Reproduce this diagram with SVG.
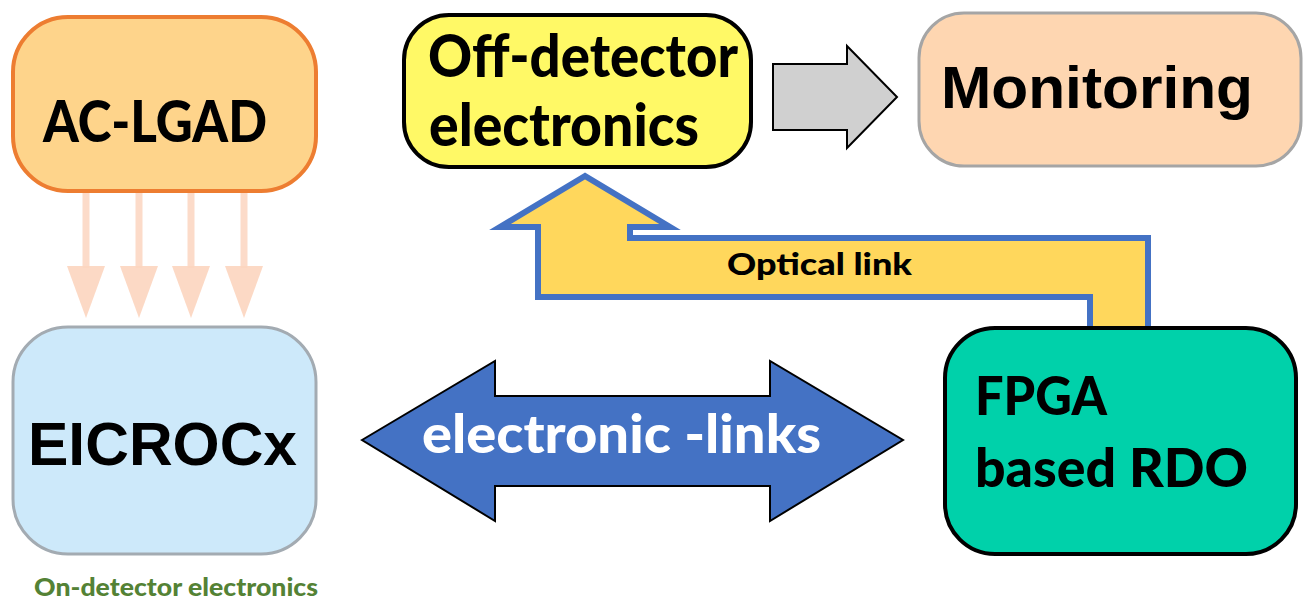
<svg xmlns="http://www.w3.org/2000/svg" width="1303" height="600" viewBox="0 0 1303 600">
<style>
.cal{font-family:Lato,"Open Sans","Liberation Sans",sans-serif;font-weight:900}
.ari{font-family:"Liberation Sans",Arial,sans-serif;font-weight:bold}
.blk{fill:#000}
</style>
<defs>
<g id="dn">
<rect x="-3.5" y="0" width="7" height="76" fill="#FCD5BF" opacity="0.85"/>
<polygon points="-19,74 19,74 0,126" fill="#FCD5BF" opacity="0.9"/>
</g>
</defs>
<rect width="1303" height="600" fill="#fff"/>
<g id="connectors">
<g id="sensor-arrows">
<use href="#dn" x="86" y="192"/>
<use href="#dn" x="139" y="192"/>
<use href="#dn" x="191" y="192"/>
<use href="#dn" x="244" y="192"/>
</g>
<g id="to-monitoring">
<polygon points="773,64 847,64 847,46 897,97 847,148 847,130 773,130" fill="#D0D0D0" stroke="#000" stroke-width="2"/>
</g>
<g id="optical-link">
<path d="M585,176 L500,227 L538,227 L538,297 L1090,297 L1090,330 L1148,330 L1148,238 L630,238 L630,227 L670,227 Z" fill="#FFD75C" stroke="#4472C4" stroke-width="6" stroke-linejoin="miter"/>
<text x="727" y="275" class="cal blk" font-size="31" textLength="185" lengthAdjust="spacingAndGlyphs">Optical link</text>
</g>
<g id="electronic-links">
<polygon points="362,440 495,361 495,396 770,396 770,361 903,440 770,521 770,486 495,486 495,521" fill="#4472C4" stroke="#000" stroke-width="2"/>
<text x="422" y="453" class="cal" fill="#fff" font-size="53" textLength="399" lengthAdjust="spacingAndGlyphs">electronic -links</text>
</g>
</g>
<g id="ac-lgad">
<rect x="13" y="17" width="303" height="174" rx="55" fill="#FED48B" stroke="#ED7D31" stroke-width="4"/>
<text x="43" y="142" class="cal blk" font-size="57" textLength="224" lengthAdjust="spacingAndGlyphs">AC-LGAD</text>
</g>
<g id="eicrocx">
<rect x="13" y="327" width="303" height="227" rx="55" fill="#CDE9FA" stroke="#A3ABB2" stroke-width="3"/>
<text x="28" y="465" class="ari blk" font-size="62" textLength="269" lengthAdjust="spacingAndGlyphs">EICROCx</text>
</g>
<g id="off-detector">
<rect x="404" y="15" width="347" height="152" rx="45" fill="#FFF966" stroke="#000" stroke-width="4"/>
<text x="428" y="77" class="cal blk" font-size="59" textLength="310" lengthAdjust="spacingAndGlyphs">Off-detector</text>
<text x="429" y="146" class="cal blk" font-size="59" textLength="270" lengthAdjust="spacingAndGlyphs">electronics</text>
</g>
<g id="monitoring">
<rect x="919" y="13" width="382" height="153" rx="45" fill="#FED6B1" stroke="#A5A5A5" stroke-width="3"/>
<text x="941" y="108" class="ari blk" font-size="60" textLength="312" lengthAdjust="spacingAndGlyphs">Monitoring</text>
</g>
<g id="fpga">
<rect x="945" y="328" width="351" height="226" rx="50" fill="#00D1AA" stroke="#000" stroke-width="4"/>
<text x="975" y="415" class="cal blk" font-size="54" textLength="132" lengthAdjust="spacingAndGlyphs">FPGA</text>
<text x="975" y="487" class="cal blk" font-size="54" textLength="273" lengthAdjust="spacingAndGlyphs">based RDO</text>
</g>
<g id="on-detector-label">
<text x="34" y="596" class="cal" fill="#548235" font-size="24" textLength="284" lengthAdjust="spacingAndGlyphs">On-detector electronics</text>
</g>
</svg>
